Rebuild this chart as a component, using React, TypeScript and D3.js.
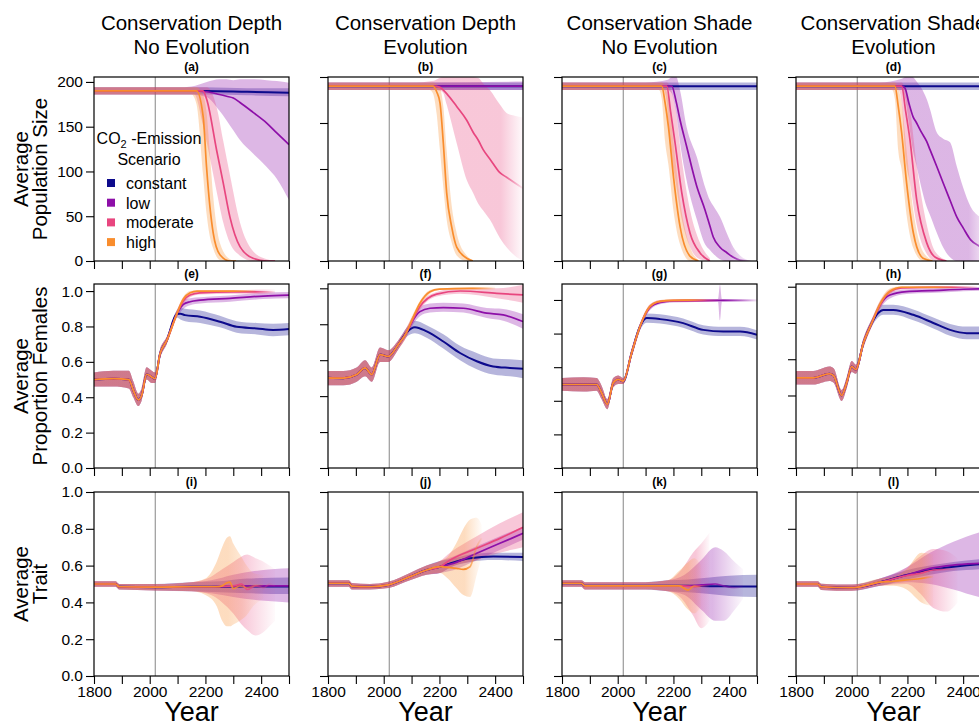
import React, { useEffect, useRef } from "react";
import * as d3 from "d3";

// each row: [year, mean, lower, upper]
const scenarios = ["constant", "low", "moderate", "high"];
const colors = ["#0d0a8c", "#8d0fa8", "#e8467f", "#f98d2d"];

const columnTitles = [
  ["Conservation Depth", "No Evolution"],
  ["Conservation Depth", "Evolution"],
  ["Conservation Shade", "No Evolution"],
  ["Conservation Shade", "Evolution"],
];
const rowLabels = [
  ["Average", "Population Size"],
  ["Average", "Proportion Females"],
  ["Average", "Trait"],
];
const letters = ["a", "b", "c", "d", "e", "f", "g", "h", "i", "j", "k", "l"];
const yearTicks = [1800, 1900, 2000, 2100, 2200, 2300, 2400, 2500];
const yearLabels = [1800, 2000, 2200, 2400];
const popTicks = [0, 50, 100, 150, 200];
const propTicks = [0, 0.2, 0.4, 0.6, 0.8, 1.0];
const yMax = [205.5, 200, 200, 200, 1.04, 1.024, 1.095, 1.015, 1, 1, 1, 1];
const interventionYear = 2020;

// ---- population size (a-d)
const popEarly = [[1800, 190, 186, 194], [2100, 190, 186, 194]];

const a_constant = [[2200, 190, 186, 194], [2350, 189, 185, 193], [2500, 188, 184, 193]];
const a_low = [[2150, 190, 186, 195], [2205, 189, 183, 200], [2250, 186, 168, 203], [2276, 184, 157, 203], [2300, 182, 146, 202], [2324, 177, 135, 203], [2371, 166, 120, 203], [2420, 154, 105, 202], [2456, 143, 92, 201], [2500, 130, 68, 199]];
const a_moderate = [[2160, 190, 186, 194], [2191, 190, 152, 194], [2205, 180, 132, 194], [2240, 124, 78, 172], [2264, 87, 43, 134], [2288, 49, 20, 96], [2324, 16, 6, 43], [2371, 3, 0, 11], [2420, 0, 0, 2], [2450, 0, 0, 0]];
const a_high = [[2150, 190, 186, 194], [2168, 190, 175, 194], [2192, 161, 95, 185], [2204, 105, 53, 166], [2216, 61, 27, 120], [2228, 31, 14, 72], [2252, 7, 1, 20], [2288, 0, 0, 2], [2310, 0, 0, 0]];

const b_constant = [[2500, 190, 186, 194]];
const b_low = [[2500, 190, 186, 195]];
const b_moderate = [[2180, 190, 186, 196], [2200, 189, 185, 199], [2213, 186, 183, 200], [2226, 182, 170, 200], [2262, 168, 128, 200], [2298, 153, 88, 200], [2321, 140, 74, 200], [2340, 131, 62, 199], [2357, 121, 55, 193], [2381, 111, 45, 186], [2417, 96, 25, 170], [2441, 91, 15, 161], [2470, 85, 6, 158], [2500, 79, 0, 156]];
const b_high = [[2165, 190, 186, 194], [2177, 190, 182, 194], [2190, 184, 160, 192], [2202, 172, 120, 188], [2214, 128, 80, 168], [2226, 74, 45, 120], [2244, 37, 20, 60], [2262, 15, 6, 30], [2298, 3, 0, 6], [2320, 0, 0, 1]];

const c_constant = [[2500, 190, 186, 194]];
const c_low = [[2180, 190, 186, 197], [2194, 190, 182, 200], [2210, 173, 160, 200], [2224, 153, 128, 185], [2247, 125, 88, 146], [2284, 81, 45, 113], [2314, 55, 18, 80], [2331, 38, 12, 66], [2343, 26, 8, 60], [2367, 15, 2, 48], [2392, 9, 0, 30], [2415, 4, 0, 15], [2439, 1, 0, 6], [2480, 0, 0, 0]];
const c_moderate = [[2165, 190, 186, 194], [2176, 190, 172, 194], [2190, 162, 120, 188], [2206, 128, 90, 168], [2230, 74, 45, 110], [2260, 30, 15, 55], [2295, 9, 2, 20], [2331, 0, 0, 3]];
const c_high = [[2148, 190, 186, 194], [2158, 190, 176, 194], [2170, 172, 130, 190], [2182, 146, 105, 175], [2200, 92, 55, 130], [2224, 37, 18, 65], [2260, 5, 0, 15], [2290, 0, 0, 1]];

const d_constant = [[2500, 190, 186, 194]];
const d_low = [[2180, 190, 186, 198], [2191, 188, 178, 200], [2205, 172, 150, 202], [2220, 157, 120, 200], [2233, 150, 103, 195], [2250, 140, 80, 188], [2269, 130, 59, 176], [2281, 121, 50, 165], [2305, 103, 31, 140], [2328, 85, 15, 133], [2353, 66, 4, 129], [2377, 48, 0, 103], [2400, 36, 0, 80], [2427, 23, 0, 59], [2459, 16, 0, 48], [2500, 10, 0, 40]];
const d_moderate = [[2168, 190, 186, 194], [2179, 190, 172, 194], [2194, 162, 110, 185], [2209, 132, 85, 165], [2233, 67, 40, 105], [2269, 20, 8, 40], [2300, 4, 0, 10], [2340, 0, 0, 1]];
const d_high = [[2145, 190, 186, 194], [2155, 190, 176, 194], [2167, 168, 120, 188], [2179, 140, 100, 172], [2197, 85, 50, 120], [2221, 31, 14, 55], [2256, 3, 0, 10], [2290, 0, 0, 1]];

// ---- proportion females (e-h)
const e_early = [[1800, 0.5, 0.46, 0.54], [1870, 0.505, 0.46, 0.55], [1925, 0.5, 0.45, 0.55], [1941, 0.44, 0.4, 0.49], [1959, 0.385, 0.35, 0.42], [1971, 0.41, 0.38, 0.45], [1989, 0.53, 0.5, 0.57], [2007, 0.515, 0.48, 0.55], [2019, 0.505, 0.48, 0.54], [2037, 0.645, 0.62, 0.67], [2061, 0.72, 0.7, 0.74], [2097, 0.87, 0.85, 0.89]];
const e_constant = [[2110, 0.872, 0.84, 0.905], [2127, 0.864, 0.83, 0.9], [2181, 0.855, 0.82, 0.89], [2252, 0.827, 0.795, 0.86], [2312, 0.798, 0.765, 0.83], [2384, 0.789, 0.755, 0.82], [2443, 0.78, 0.745, 0.815], [2500, 0.785, 0.75, 0.82]];
const e_low = [[2121, 0.925, 0.9, 0.95], [2145, 0.94, 0.92, 0.96], [2181, 0.949, 0.93, 0.965], [2288, 0.959, 0.94, 0.975], [2408, 0.972, 0.955, 0.99], [2500, 0.977, 0.96, 0.995]];
const e_moderate = [[2121, 0.945, 0.925, 0.965], [2145, 0.978, 0.965, 0.99], [2180, 0.99, 0.98, 1.0], [2300, 0.995, 0.985, 1.005], [2450, 0.995, 0.98, 1.01]];
const e_high = [[2121, 0.955, 0.94, 0.97], [2145, 0.99, 0.98, 1.0], [2170, 1.0, 0.995, 1.005], [2300, 1.0, 0.995, 1.005], [2380, 1.0, 0.99, 1.005]];

const f_early = [[1800, 0.502, 0.46, 0.54], [1855, 0.5, 0.46, 0.54], [1903, 0.52, 0.48, 0.56], [1933, 0.557, 0.51, 0.6], [1957, 0.52, 0.48, 0.56], [1987, 0.631, 0.59, 0.67], [2016, 0.621, 0.59, 0.655], [2052, 0.686, 0.66, 0.71], [2082, 0.755, 0.73, 0.78]];
const f_constant = [[2112, 0.784, 0.75, 0.82], [2154, 0.76, 0.725, 0.795], [2214, 0.704, 0.665, 0.745], [2274, 0.64, 0.6, 0.68], [2334, 0.594, 0.55, 0.64], [2393, 0.565, 0.52, 0.61], [2453, 0.557, 0.51, 0.605], [2500, 0.552, 0.5, 0.6]];
const f_low = [[2106, 0.825, 0.8, 0.85], [2130, 0.87, 0.845, 0.895], [2166, 0.889, 0.865, 0.915], [2214, 0.893, 0.87, 0.92], [2286, 0.889, 0.865, 0.915], [2370, 0.862, 0.835, 0.89], [2429, 0.852, 0.82, 0.885], [2500, 0.815, 0.775, 0.855]];
const f_moderate = [[2106, 0.83, 0.81, 0.85], [2130, 0.898, 0.88, 0.915], [2190, 0.968, 0.955, 0.98], [2274, 0.985, 0.97, 1.0], [2406, 0.972, 0.945, 1.0], [2500, 0.963, 0.92, 1.02]];
const f_high = [[2106, 0.84, 0.82, 0.86], [2130, 0.917, 0.9, 0.93], [2166, 0.981, 0.97, 0.99], [2200, 0.996, 0.99, 1.0], [2310, 1.0, 0.995, 1.005], [2400, 1.0, 0.99, 1.01]];

const g_early = [[1800, 0.497, 0.46, 0.535], [1877, 0.497, 0.455, 0.54], [1924, 0.497, 0.46, 0.535], [1942, 0.448, 0.41, 0.49], [1963, 0.379, 0.35, 0.41], [1984, 0.507, 0.48, 0.535], [2002, 0.527, 0.5, 0.55], [2020, 0.517, 0.5, 0.535], [2050, 0.685, 0.66, 0.71], [2080, 0.842, 0.82, 0.86]];
const g_constant = [[2104, 0.892, 0.865, 0.92], [2152, 0.886, 0.86, 0.915], [2235, 0.862, 0.835, 0.89], [2307, 0.822, 0.795, 0.85], [2379, 0.812, 0.785, 0.84], [2439, 0.812, 0.785, 0.84], [2500, 0.793, 0.765, 0.82]];
const g_low = [[2116, 0.955, 0.94, 0.97], [2152, 0.985, 0.975, 0.995], [2200, 0.995, 0.985, 1.0], [2360, 0.998, 0.99, 1.005], [2367, 0.998, 0.88, 1.09], [2374, 0.998, 0.99, 1.005], [2500, 0.998, 0.99, 1.005]];
const g_moderate = [[2116, 0.96, 0.945, 0.975], [2152, 0.99, 0.98, 1.0], [2200, 0.996, 0.99, 1.003], [2360, 0.998, 0.99, 1.005]];
const g_high = [[2116, 0.962, 0.95, 0.975], [2152, 0.992, 0.985, 1.0], [2200, 0.998, 0.99, 1.005], [2320, 1.0, 0.99, 1.005]];

const h_early = [[1800, 0.497, 0.46, 0.535], [1862, 0.497, 0.46, 0.535], [1920, 0.52, 0.48, 0.56], [1935, 0.51, 0.47, 0.55], [1964, 0.4, 0.37, 0.43], [1982, 0.47, 0.44, 0.5], [2000, 0.56, 0.53, 0.59], [2015, 0.543, 0.52, 0.57], [2042, 0.69, 0.665, 0.715], [2072, 0.8, 0.78, 0.82]];
const h_constant = [[2095, 0.855, 0.83, 0.88], [2113, 0.872, 0.845, 0.9], [2149, 0.872, 0.845, 0.9], [2221, 0.845, 0.815, 0.875], [2293, 0.8, 0.77, 0.83], [2353, 0.762, 0.73, 0.795], [2413, 0.744, 0.71, 0.78], [2457, 0.744, 0.71, 0.78], [2500, 0.745, 0.71, 0.78]];
const h_low = [[2102, 0.9, 0.88, 0.92], [2137, 0.954, 0.935, 0.97], [2197, 0.973, 0.96, 0.985], [2281, 0.978, 0.965, 0.99], [2400, 0.986, 0.975, 0.997], [2500, 0.99, 0.98, 1.0]];
const h_moderate = [[2102, 0.9, 0.88, 0.92], [2137, 0.973, 0.96, 0.985], [2180, 0.993, 0.985, 1.0], [2300, 0.997, 0.99, 1.003], [2450, 0.997, 0.99, 1.003]];
const h_high = [[2102, 0.905, 0.885, 0.925], [2137, 0.975, 0.96, 0.99], [2180, 0.997, 0.99, 1.003], [2300, 0.997, 0.99, 1.003], [2380, 0.997, 0.99, 1.003]];

// ---- average trait (i-l)
const i_early = [[1800, 0.5, 0.485, 0.515], [1878, 0.5, 0.485, 0.515], [1890, 0.485, 0.47, 0.5], [2020, 0.483, 0.465, 0.5], [2150, 0.485, 0.46, 0.51]];
const i_constant = [[2250, 0.485, 0.455, 0.515], [2350, 0.487, 0.45, 0.53], [2500, 0.487, 0.445, 0.535]];
const i_low = [[2220, 0.485, 0.45, 0.52], [2300, 0.488, 0.43, 0.55], [2400, 0.49, 0.41, 0.575], [2500, 0.49, 0.4, 0.585]];
const i_moderate = [[2220, 0.485, 0.44, 0.54], [2260, 0.487, 0.4, 0.58], [2300, 0.49, 0.34, 0.62], [2330, 0.5, 0.28, 0.65], [2350, 0.47, 0.25, 0.66], [2380, 0.49, 0.22, 0.64], [2410, 0.48, 0.24, 0.62], [2430, 0.5, 0.27, 0.6], [2450, 0.49, 0.3, 0.58]];
const i_high = [[2200, 0.485, 0.44, 0.53], [2240, 0.485, 0.38, 0.62], [2260, 0.49, 0.3, 0.7], [2276, 0.505, 0.27, 0.75], [2288, 0.51, 0.27, 0.76], [2300, 0.475, 0.28, 0.72], [2324, 0.49, 0.3, 0.66], [2348, 0.48, 0.33, 0.6], [2372, 0.49, 0.38, 0.56], [2408, 0.495, 0.42, 0.55]];

const j_early = [[1800, 0.504, 0.485, 0.52], [1875, 0.504, 0.485, 0.52], [1885, 0.488, 0.47, 0.505], [1950, 0.485, 0.47, 0.5], [2016, 0.495, 0.478, 0.512], [2094, 0.54, 0.52, 0.56], [2154, 0.576, 0.55, 0.6], [2202, 0.594, 0.56, 0.625]];
const j_constant = [[2238, 0.612, 0.59, 0.635], [2310, 0.64, 0.62, 0.66], [2393, 0.649, 0.63, 0.67], [2500, 0.647, 0.625, 0.67]];
const j_low = [[2250, 0.612, 0.575, 0.65], [2334, 0.667, 0.63, 0.705], [2417, 0.721, 0.685, 0.76], [2500, 0.775, 0.74, 0.81]];
const j_moderate = [[2238, 0.63, 0.59, 0.67], [2334, 0.694, 0.63, 0.76], [2417, 0.748, 0.67, 0.83], [2500, 0.808, 0.7, 0.89]];
const j_high = [[2230, 0.59, 0.53, 0.65], [2260, 0.585, 0.48, 0.72], [2286, 0.58, 0.44, 0.8], [2310, 0.594, 0.43, 0.85], [2334, 0.703, 0.55, 0.86], [2352, 0.748, 0.65, 0.82]];

const k_early = [[1800, 0.504, 0.485, 0.52], [1870, 0.504, 0.485, 0.52], [1882, 0.49, 0.47, 0.51], [2100, 0.49, 0.47, 0.51], [2180, 0.49, 0.46, 0.52]];
const k_constant = [[2250, 0.49, 0.455, 0.525], [2330, 0.488, 0.445, 0.535], [2400, 0.487, 0.435, 0.545], [2500, 0.486, 0.43, 0.55]];
const k_low = [[2240, 0.49, 0.44, 0.55], [2300, 0.495, 0.36, 0.63], [2350, 0.5, 0.3, 0.7], [2380, 0.49, 0.3, 0.68], [2420, 0.48, 0.36, 0.62], [2450, 0.49, 0.42, 0.58]];
const k_moderate = [[2230, 0.49, 0.42, 0.58], [2270, 0.485, 0.33, 0.67], [2300, 0.49, 0.26, 0.72], [2330, 0.49, 0.3, 0.78]];
const k_high = [[2220, 0.49, 0.42, 0.57], [2253, 0.467, 0.36, 0.62], [2275, 0.49, 0.34, 0.64], [2300, 0.48, 0.38, 0.6]];

const l_early = [[1800, 0.5, 0.485, 0.515], [1878, 0.5, 0.485, 0.515], [1890, 0.485, 0.468, 0.502], [2000, 0.48, 0.463, 0.497], [2102, 0.51, 0.49, 0.53]];
const l_constant = [[2197, 0.549, 0.525, 0.575], [2281, 0.576, 0.55, 0.6], [2365, 0.594, 0.57, 0.62], [2457, 0.607, 0.58, 0.635], [2500, 0.61, 0.585, 0.64]];
const l_low = [[2197, 0.549, 0.51, 0.59], [2281, 0.585, 0.5, 0.67], [2365, 0.603, 0.47, 0.73], [2457, 0.612, 0.43, 0.78], [2500, 0.615, 0.42, 0.8]];
const l_moderate = [[2197, 0.545, 0.5, 0.59], [2245, 0.558, 0.45, 0.65], [2293, 0.576, 0.37, 0.69], [2340, 0.58, 0.35, 0.68], [2380, 0.58, 0.4, 0.64]];
const l_high = [[2150, 0.515, 0.49, 0.54], [2197, 0.522, 0.47, 0.58], [2250, 0.53, 0.4, 0.67], [2293, 0.54, 0.38, 0.66]];

// year from which a series fades out (fewer surviving runs)
const fadeFrom: Record<string, number> = {
  b_moderate: 2420, c_low: 2400, d_low: 2420,
  e_high: 2300, e_moderate: 2380, f_high: 2320,
  g_high: 2250, g_moderate: 2280, g_low: 2380,
  h_high: 2300, h_moderate: 2360,
  i_high: 2280, i_moderate: 2330, j_high: 2290,
  k_high: 2250, k_moderate: 2280, k_low: 2340,
  l_high: 2250, l_moderate: 2290,
};

const panels = [
  { early: popEarly, series: [a_constant, a_low, a_moderate, a_high] },
  { early: popEarly, series: [b_constant, b_low, b_moderate, b_high] },
  { early: popEarly, series: [c_constant, c_low, c_moderate, c_high] },
  { early: popEarly, series: [d_constant, d_low, d_moderate, d_high] },
  { early: e_early, series: [e_constant, e_low, e_moderate, e_high] },
  { early: f_early, series: [f_constant, f_low, f_moderate, f_high] },
  { early: g_early, series: [g_constant, g_low, g_moderate, g_high] },
  { early: h_early, series: [h_constant, h_low, h_moderate, h_high] },
  { early: i_early, series: [i_constant, i_low, i_moderate, i_high] },
  { early: j_early, series: [j_constant, j_low, j_moderate, j_high] },
  { early: k_early, series: [k_constant, k_low, k_moderate, k_high] },
  { early: l_early, series: [l_constant, l_low, l_moderate, l_high] },
];

export default function App() {
  const ref = useRef<SVGSVGElement>(null);

  useEffect(() => {
    const svg = d3.select(ref.current);
    svg.selectAll("*").remove();

    const font = "Liberation Sans, Arial, Helvetica, sans-serif";
    const left = 94, step = 234, w = 195, h = 184;
    const tops = [77, 284, 492];
    const defs = svg.append("defs");
    const x = d3.scaleLinear().domain([1800, 2500]).range([0, w]);

    panels.forEach((p, i) => {
      const col = i % 4, row = Math.floor(i / 4);
      const id = letters[i];
      const y = d3.scaleLinear().domain([0, yMax[i]]).range([h, 0]);
      const g = svg.append("g").attr("transform", `translate(${left + col * step},${tops[row]})`);

      defs.append("clipPath").attr("id", "clip_" + id)
        .append("rect").attr("width", w).attr("height", h);
      const plot = g.append("g").attr("clip-path", `url(#clip_${id})`);

      // present-day marker
      plot.append("line")
        .attr("x1", x(interventionYear)).attr("x2", x(interventionYear))
        .attr("y1", 0).attr("y2", h)
        .attr("stroke", "#9a9a9a").attr("stroke-width", 1.2);

      const area = d3.area<number[]>()
        .x(d => x(d[0])).y0(d => y(d[2])).y1(d => y(d[3]))
        .curve(d3.curveMonotoneX);
      const line = d3.line<number[]>()
        .x(d => x(d[0])).y(d => y(d[1]))
        .curve(d3.curveMonotoneX);

      const data = p.series.map(s => p.early.concat(s));

      const paint = data.map((d, k) => {
        const key = id + "_" + scenarios[k];
        const from = fadeFrom[key];
        if (from === undefined) return colors[k];
        const gid = "fade_" + key;
        const grad = defs.append("linearGradient").attr("id", gid)
          .attr("gradientUnits", "userSpaceOnUse")
          .attr("x1", x(from)).attr("x2", x(d[d.length - 1][0]))
          .attr("y1", 0).attr("y2", 0);
        grad.append("stop").attr("offset", 0).attr("stop-color", colors[k]).attr("stop-opacity", 1);
        grad.append("stop").attr("offset", 1).attr("stop-color", colors[k]).attr("stop-opacity", 0.08);
        return `url(#${gid})`;
      });

      data.forEach((d, k) => {
        plot.append("path").attr("d", area(d))
          .attr("fill", paint[k]).attr("fill-opacity", 0.3);
      });
      data.forEach((d, k) => {
        plot.append("path").attr("d", line(d))
          .attr("fill", "none").attr("stroke", paint[k])
          .attr("stroke-width", k === 0 ? 2 : 1.7);
      });

      // frame
      g.append("rect").attr("width", w).attr("height", h)
        .attr("fill", "none").attr("stroke", "#000").attr("stroke-width", 1.2);

      // axes
      const yFmt = row === 0 ? d3.format("d") : d3.format(".1f");
      const yAxis = d3.axisLeft(y)
        .tickValues(row === 0 ? popTicks : propTicks)
        .tickSize(8).tickSizeOuter(0)
        .tickFormat((v: any) => (col === 0 ? yFmt(v) : ""));
      const ya = g.append("g").call(yAxis);

      const xAxis = d3.axisBottom(x)
        .tickValues(yearTicks)
        .tickSize(8).tickSizeOuter(0).tickPadding(2)
        .tickFormat((v: any) => (row === 2 && yearLabels.includes(+v) ? String(v) : ""));
      const xa = g.append("g").attr("transform", `translate(0,${h})`).call(xAxis);

      [ya, xa].forEach(a => {
        a.select(".domain").remove();
        a.selectAll("line").attr("stroke", "#000").attr("stroke-width", 1.1);
        a.selectAll("text").attr("font-family", font).attr("font-size", 15.5).attr("fill", "#000");
      });

      // panel letter
      g.append("text")
        .attr("x", w / 2).attr("y", -6)
        .attr("text-anchor", "middle")
        .attr("font-family", font).attr("font-size", 12).attr("font-weight", "bold")
        .text(`(${id})`);

      if (row === 2) {
        g.append("text")
          .attr("x", w / 2).attr("y", h + 45)
          .attr("text-anchor", "middle")
          .attr("font-family", font).attr("font-size", 27)
          .text("Year");
      }
    });

    // column titles
    columnTitles.forEach((t, c) => {
      const cx = left + c * step + w / 2;
      t.forEach((s, k) => {
        svg.append("text")
          .attr("x", cx).attr("y", 30 + k * 23.5)
          .attr("text-anchor", "middle")
          .attr("font-family", font).attr("font-size", 20.5)
          .text(s);
      });
    });

    // row labels
    rowLabels.forEach((t, r) => {
      const cy = tops[r] + h / 2;
      t.forEach((s, k) => {
        svg.append("text")
          .attr("transform", `translate(${28 + k * 19},${cy}) rotate(-90)`)
          .attr("text-anchor", "middle")
          .attr("font-family", font).attr("font-size", 20.5)
          .text(s);
      });
    });

    // legend inside panel (a)
    const lt = svg.append("text")
      .attr("x", 149).attr("y", 144)
      .attr("text-anchor", "middle")
      .attr("font-family", font).attr("font-size", 16);
    lt.append("tspan").text("CO");
    lt.append("tspan").attr("dy", 4).attr("font-size", 11).text("2");
    lt.append("tspan").attr("dy", -4).text(" -Emission");
    svg.append("text")
      .attr("x", 149).attr("y", 165)
      .attr("text-anchor", "middle")
      .attr("font-family", font).attr("font-size", 16)
      .text("Scenario");

    scenarios.forEach((s, k) => {
      const by = 189 + k * 19.7;
      svg.append("rect")
        .attr("x", 107).attr("y", by - 10).attr("width", 8).attr("height", 8)
        .attr("fill", colors[k]);
      svg.append("text")
        .attr("x", 126).attr("y", by)
        .attr("font-family", font).attr("font-size", 16)
        .text(s);
    });
  }, []);

  return (
    <svg ref={ref} width={979} height={722}
      style={{ position: "absolute", left: 0, top: 0, background: "#fff" }} />
  );
}
